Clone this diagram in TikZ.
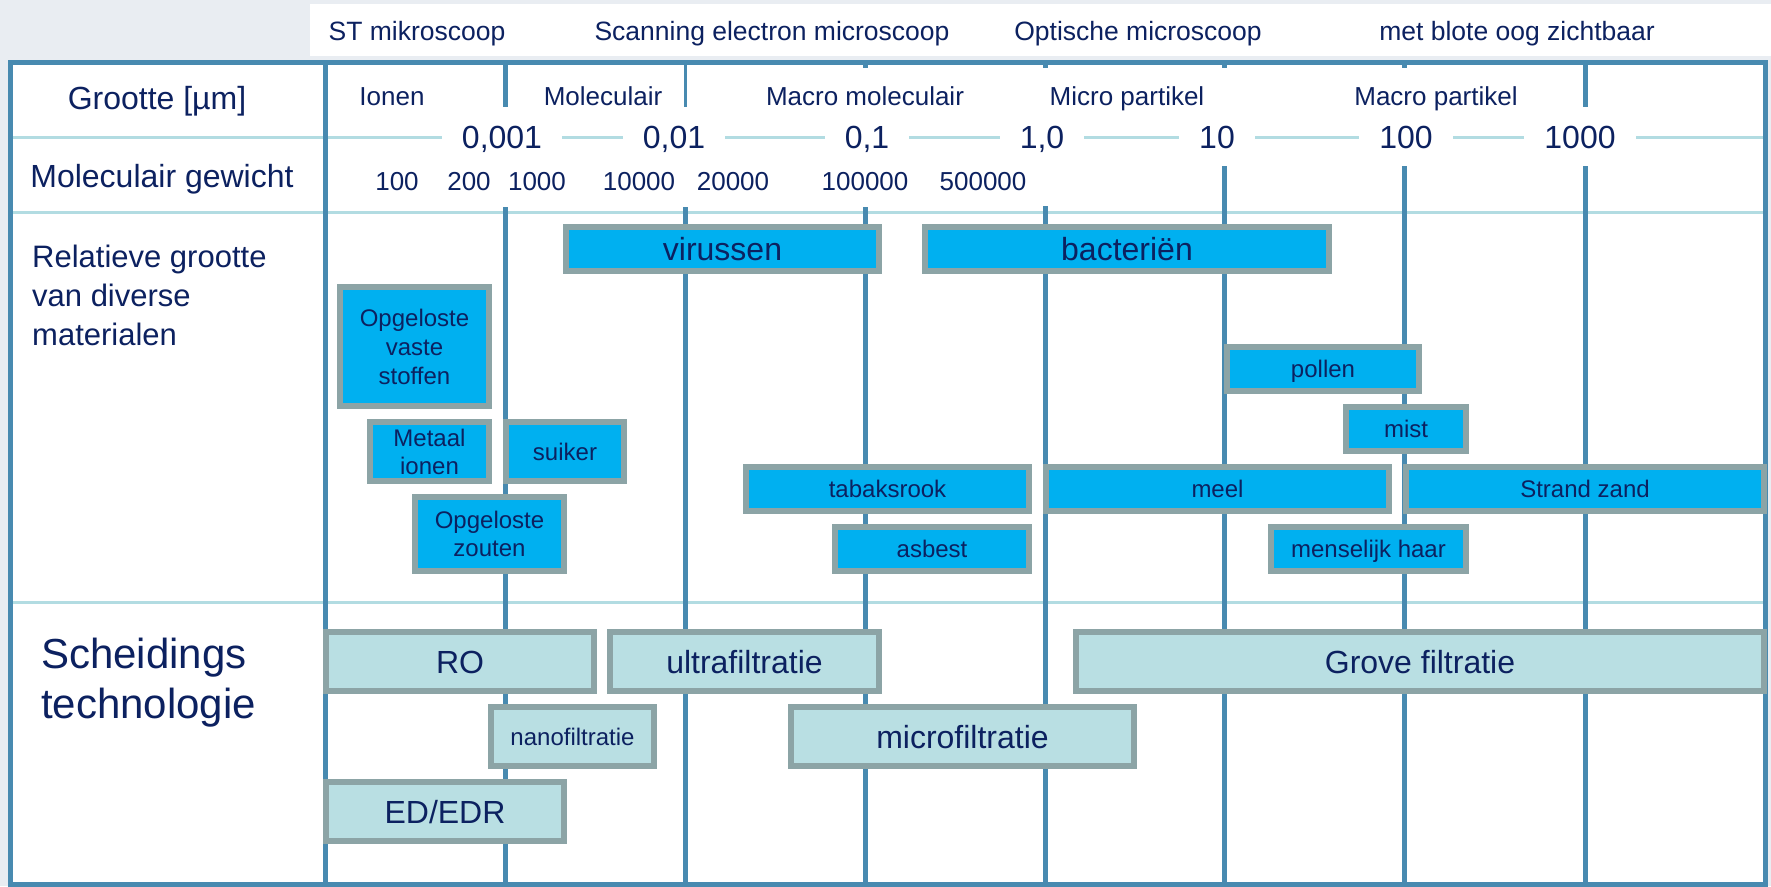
\documentclass[tikz,border=0pt]{standalone}
\usepackage{fontspec}
\setmainfont{Liberation Sans}
\definecolor{navy}{RGB}{12,33,96}
\definecolor{framecol}{RGB}{72,138,176}
\definecolor{lightcol}{RGB}{178,220,226}
\definecolor{cyanfill}{RGB}{0,176,240}
\definecolor{barborder}{RGB}{140,164,166}
\definecolor{tealfill}{RGB}{185,223,227}
\definecolor{bgcol}{RGB}{233,237,242}
\begin{document}
\begin{tikzpicture}[x=1pt,y=-1pt,
  txt/.style={text=navy, inner sep=0pt, anchor=base},
  fbig/.style={font=\fontsize{32}{38}\selectfont},
  fmid/.style={font=\fontsize{26.5}{31}\selectfont},
  fsmall/.style={font=\fontsize{24}{29}\selectfont},
  matbar/.style={draw=barborder, fill=cyanfill, line width=6pt, text=navy, inner sep=0pt},
  sepbar/.style={draw=barborder, fill=tealfill, line width=6pt, text=navy, inner sep=0pt},
  onebig/.style={fbig, text height=23pt, text depth=0pt},
  onesmall/.style={fsmall, text height=17pt, text depth=0pt},
  gridline/.style={draw=framecol, line width=5pt},
  lightline/.style={draw=lightcol, line width=3pt},
  numlabel/.style={fill=white, inner xsep=20pt, inner ysep=3pt, text=navy, anchor=base, fbig},
]
\useasboundingbox (0,0) rectangle (1771,886);
% background
\fill[bgcol] (0,0) rectangle (1771,886);
\fill[white] (310,4) rectangle (1771,56);
\fill[white] (10,62) rectangle (1765,884);

% light horizontal lines
\draw[lightline] (10,137) -- (1765,137);
\draw[lightline] (10,212) -- (1765,212);
\draw[lightline] (10,602) -- (1765,602);

% vertical grid lines
\draw[gridline] (325,62) -- (325,884);
\draw[gridline] (505,62) -- (505,107) (505,207) -- (505,884);
\draw[gridline, line width=3pt] (685,62) -- (685,107);
\draw[gridline] (685,207) -- (685,884);
\draw[gridline] (865,62) -- (865,68) (865,207) -- (865,884);
\draw[gridline] (1045,62) -- (1045,68) (1045,206) -- (1045,884);
\draw[gridline] (1224,62) -- (1224,68) (1224,166) -- (1224,884);
\draw[gridline] (1404,62) -- (1404,68) (1404,166) -- (1404,884);
\draw[gridline] (1585,62) -- (1585,107) (1585,166) -- (1585,884);

% frame
\draw[framecol, line width=5pt] (10,62) rectangle (1765,884);

% header
\node[txt, fmid] (h1) at (417,40) {ST mikroscoop};
\node[txt, fmid] (h2) at (772,40) {Scanning electron microscoop};
\node[txt, fmid] (h3) at (1138,40) {Optische microscoop};
\node[txt, fmid] (h4) at (1517,40) {met blote oog zichtbaar};

% row labels
\node[txt, fbig] (grootte) at (157,109) {Grootte [µm]};
\node[txt, fbig] (molgew) at (162,187) {Moleculair gewicht};
\node[txt, anchor=base west, font=\fontsize{31}{39}\selectfont] (rel1) at (32,267) {Relatieve grootte};
\node[txt, anchor=base west, font=\fontsize{31}{39}\selectfont] (rel2) at (32,306) {van diverse};
\node[txt, anchor=base west, font=\fontsize{31}{39}\selectfont] (rel3) at (32,345) {materialen};
\node[txt, anchor=base west, font=\fontsize{42}{50}\selectfont] (sch1) at (41,668) {Scheidings};
\node[txt, anchor=base west, font=\fontsize{42}{50}\selectfont] (sch2) at (41,718) {technologie};

% class labels
\node[txt, font=\fontsize{26}{31}\selectfont] (c1) at (392,105) {Ionen};
\node[txt, font=\fontsize{26}{31}\selectfont] (c2) at (603,105) {Moleculair};
\node[txt, font=\fontsize{26}{31}\selectfont] (c3) at (865,105) {Macro moleculair};
\node[txt, font=\fontsize{26}{31}\selectfont] (c4) at (1127,105) {Micro partikel};
\node[txt, font=\fontsize{26}{31}\selectfont] (c5) at (1436,105) {Macro partikel};

% size numbers
\node[numlabel] (n1) at (502,148) {0,001};
\node[numlabel] (n2) at (674,148) {0,01};
\node[numlabel] (n3) at (867,148) {0,1};
\node[numlabel] (n4) at (1042,148) {1,0};
\node[numlabel] (n5) at (1217,148) {10};
\node[numlabel] (n6) at (1406,148) {100};
\node[numlabel] (n7) at (1580,148) {1000};

% molecular weights
\node[txt, font=\fontsize{26}{31}\selectfont] (m1) at (397,190) {100};
\node[txt, font=\fontsize{26}{31}\selectfont] (m2) at (469,190) {200};
\node[txt, font=\fontsize{26}{31}\selectfont] (m3) at (537,190) {1000};
\node[txt, font=\fontsize{26}{31}\selectfont] (m4) at (639,190) {10000};
\node[txt, font=\fontsize{26}{31}\selectfont] (m5) at (733,190) {20000};
\node[txt, font=\fontsize{26}{31}\selectfont] (m6) at (865,190) {100000};
\node[txt, font=\fontsize{26}{31}\selectfont] (m7) at (983,190) {500000};

% materials
\node[matbar, onebig, minimum width=313pt, minimum height=44pt] (vir) at (722.5,249) {virussen};
\node[matbar, onebig, minimum width=404pt, minimum height=44pt] (bac) at (1127,249) {bacteriën};
\node[matbar, fsmall, align=center, minimum width=149pt, minimum height=119pt] (ovs) at (414.5,346.5) {Opgeloste\\vaste\\stoffen};
\node[matbar, font=\fontsize{24}{28}\selectfont, align=center, minimum width=119pt, minimum height=59pt] (mion) at (429.5,451.5) {Metaal\\ionen};
\node[matbar, onesmall, minimum width=118pt, minimum height=59pt] (sui) at (565,451.5) {suiker};
\node[matbar, font=\fontsize{24}{28.5}\selectfont, align=center, minimum width=149pt, minimum height=74pt] (ozo) at (489.5,534) {Opgeloste\\zouten};
\node[matbar, onesmall, minimum width=283pt, minimum height=44pt] (tab) at (887.5,489) {tabaksrook};
\node[matbar, onesmall, minimum width=194pt, minimum height=44pt] (asb) at (932,549) {asbest};
\node[matbar, onesmall, minimum width=192pt, minimum height=44pt] (pol) at (1323,369) {pollen};
\node[matbar, onesmall, minimum width=120pt, minimum height=44pt] (mist) at (1406,429) {mist};
\node[matbar, onesmall, minimum width=343pt, minimum height=44pt] (meel) at (1217.5,489) {meel};
\node[matbar, onesmall, minimum width=358pt, minimum height=44pt] (zand) at (1585,489) {Strand zand};
\node[matbar, onesmall, minimum width=195pt, minimum height=44pt] (haar) at (1368.5,549) {menselijk haar};

% separation technologies
\node[sepbar, onebig, minimum width=268pt, minimum height=59pt] (ro) at (460,661.5) {RO};
\node[sepbar, onebig, minimum width=269pt, minimum height=59pt] (uf) at (744.5,661.5) {ultrafiltratie};
\node[sepbar, onebig, minimum width=688pt, minimum height=59pt] (gf) at (1420,661.5) {Grove filtratie};
\node[sepbar, onesmall, minimum width=163pt, minimum height=59pt] (nf) at (572.5,736.5) {nanofiltratie};
\node[sepbar, onebig, minimum width=343pt, minimum height=59pt] (mf) at (962.5,736.5) {microfiltratie};
\node[sepbar, onebig, minimum width=238pt, minimum height=59pt] (ed) at (445,811.5) {ED/EDR};
\end{tikzpicture}
\end{document}
